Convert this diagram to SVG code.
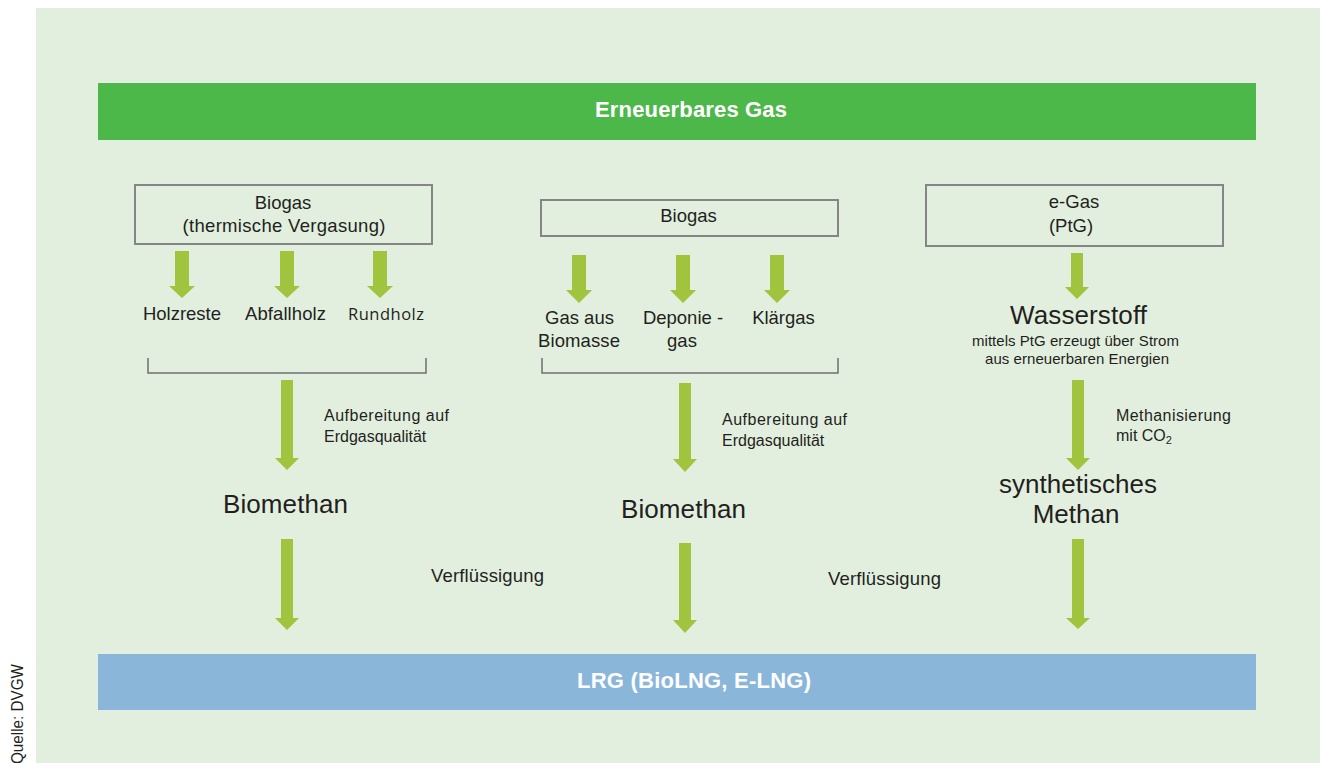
<svg xmlns="http://www.w3.org/2000/svg" width="1320" height="763" viewBox="0 0 1320 763">
<style>
.t{font-family:"Liberation Sans",Arial,sans-serif;fill:#231f20}
.c{text-anchor:middle}
.box{fill:none;stroke:#858585;stroke-width:2}
.br{fill:none;stroke:#6f6f6f;stroke-width:1.5}
.ar{fill:#a0c43e}
.hd{font-family:"Liberation Sans",Arial,sans-serif;font-weight:bold;font-size:22px;fill:#ffffff}
</style>
<rect x="0" y="0" width="1320" height="763" fill="#ffffff"/>
<rect x="36" y="8" width="1284" height="755" fill="#e2efdf"/>
<text class="t" transform="translate(23,764) rotate(-90)" font-size="17" fill="#333" textLength="100" lengthAdjust="spacingAndGlyphs" style="font-family:'Liberation Sans Narrow','Liberation Sans',sans-serif">Quelle: DVGW</text>

<g id="erneuerbares-gas">
<rect x="98" y="83" width="1158" height="57" fill="#4db84a"/>
<text class="hd" x="595" y="117" textLength="192">Erneuerbares Gas</text>
</g>

<g id="lrg">
<rect x="98" y="654" width="1158" height="56" fill="#8ab6da"/>
<text class="hd" x="577" y="688" textLength="234">LRG (BioLNG, E-LNG)</text>
</g>

<g id="biogas-thermisch">
<rect class="box" x="135" y="185" width="297" height="59"/>
<text class="t c" x="283" y="209" font-size="18.5">Biogas</text>
<text class="t c" x="284" y="232" font-size="18.5" textLength="203">(thermische Vergasung)</text>
</g>
<g id="holzreste"><text class="t c" x="182" y="320" font-size="18.5" textLength="78">Holzreste</text></g>
<g id="abfallholz"><text class="t c" x="285.5" y="320" font-size="18.5" textLength="81">Abfallholz</text></g>
<g id="rundholz"><text class="t c" x="386" y="320" font-size="16.5" fill="#333" textLength="76" style="font-family:'Open Sans','Noto Sans',sans-serif">Rundholz</text></g>

<g id="biogas">
<rect class="box" x="541" y="200" width="297" height="36"/>
<text class="t c" x="688.5" y="222" font-size="18.5">Biogas</text>
</g>
<g id="gas-aus-biomasse">
<text class="t c" x="579.5" y="324" font-size="18.5">Gas aus</text>
<text class="t c" x="579" y="347" font-size="18.5" textLength="82">Biomasse</text>
</g>
<g id="deponiegas">
<text class="t c" x="683" y="324" font-size="18.5">Deponie -</text>
<text class="t c" x="682" y="347" font-size="18.5">gas</text>
</g>
<g id="klaergas"><text class="t c" x="783.5" y="324" font-size="18.5">Klärgas</text></g>

<g id="e-gas">
<rect class="box" x="926" y="185" width="297" height="61"/>
<text class="t c" x="1074" y="208" font-size="18.5">e-Gas</text>
<text class="t c" x="1071" y="232" font-size="18.5">(PtG)</text>
</g>
<g id="wasserstoff">
<text class="t c" x="1078.5" y="324" font-size="26" textLength="137">Wasserstoff</text>
<text class="t c" x="1075.5" y="346" font-size="15" textLength="207">mittels PtG erzeugt über Strom</text>
<text class="t c" x="1077" y="364" font-size="15" textLength="184">aus erneuerbaren Energien</text>
</g>

<g id="biomethan-1"><text class="t" x="223" y="513" font-size="26" textLength="125">Biomethan</text></g>
<g id="biomethan-2"><text class="t" x="621" y="518" font-size="26" textLength="125">Biomethan</text></g>
<g id="synthetisches-methan">
<text class="t c" x="1078" y="493" font-size="26" textLength="158">synthetisches</text>
<text class="t c" x="1076" y="523" font-size="26">Methan</text>
</g>

<g id="connectors">
<path class="br" d="M148 358 V373 H426 V358"/>
<path class="br" d="M542 358 V373 H838 V358"/>
<path class="ar" d="M175 251 H189 V286 H195 L182 298 L169 286 H175 Z"/>
<path class="ar" d="M280 251 H294 V286 H300 L287 298 L274 286 H280 Z"/>
<path class="ar" d="M373 251 H387 V286 H393 L380 298 L367 286 H373 Z"/>
<path class="ar" d="M572 255 H586 V290 H592 L579 303 L566 290 H572 Z"/>
<path class="ar" d="M676 255 H690 V290 H696 L683 303 L670 290 H676 Z"/>
<path class="ar" d="M770 255 H784 V290 H790 L777 303 L764 290 H770 Z"/>
<path class="ar" d="M1071 253 H1083 V287 H1089 L1077 299 L1065 287 H1071 Z"/>
<path class="ar" d="M281 380 H293 V458 H299 L287 470 L275 458 H281 Z"/>
<path class="ar" d="M281 539 H293 V618 H299 L287 630 L275 618 H281 Z"/>
<path class="ar" d="M679 383 H691 V459 H697 L685 472 L673 459 H679 Z"/>
<path class="ar" d="M679 543 H691 V620 H697 L685 633 L673 620 H679 Z"/>
<path class="ar" d="M1072 380 H1084 V458 H1090 L1078 470 L1066 458 H1072 Z"/>
<path class="ar" d="M1072 539 H1084 V618 H1090 L1078 629 L1066 618 H1072 Z"/>
<text class="t" x="324" y="421" font-size="16" textLength="125">Aufbereitung auf</text>
<text class="t" x="324" y="442" font-size="16">Erdgasqualität</text>
<text class="t" x="722" y="425" font-size="16" textLength="125">Aufbereitung auf</text>
<text class="t" x="722" y="446" font-size="16">Erdgasqualität</text>
<text class="t" x="1116" y="421" font-size="16" textLength="115">Methanisierung</text>
<text class="t" x="1116" y="441" font-size="16">mit CO<tspan font-size="11" dy="3">2</tspan></text>
<text class="t" x="431" y="582" font-size="18.5" textLength="113">Verflüssigung</text>
<text class="t" x="828" y="585" font-size="18.5" textLength="113">Verflüssigung</text>
</g>
</svg>
